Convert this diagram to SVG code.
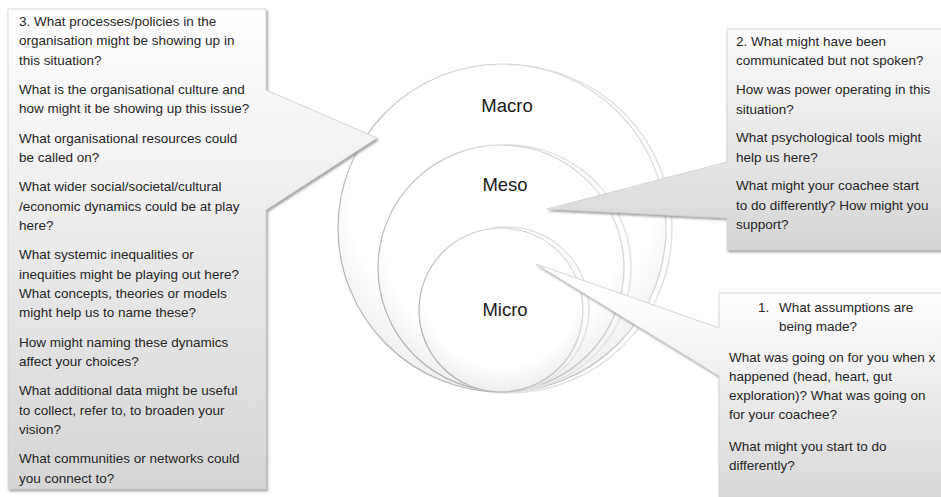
<svg xmlns="http://www.w3.org/2000/svg" width="941" height="497" viewBox="0 0 941 497">
  <style>
    .q { font-family: "Liberation Sans", Arial, sans-serif; font-size: 13.5px; fill: #262626; }
    .lbl { font-family: "Liberation Sans", Arial, sans-serif; font-size: 18.5px; fill: #1a1a1a; text-anchor: middle; }
    .callout { stroke: #cfcfcf; stroke-width: 0.8; filter: url(#shadow); }
    .ring { stroke: url(#ringStroke); stroke-width: 1.2; fill: url(#ringFill); }
    .ghost { fill: none; stroke: #e3e3e3; stroke-width: 1.6; }
  </style>
  <defs>
    <filter id="shadow" x="-5%" y="-5%" width="115%" height="115%">
      <feDropShadow dx="1.5" dy="2" stdDeviation="1.1" flood-color="#6f6f6f" flood-opacity="0.65"/>
    </filter>
    <linearGradient id="gLeft" gradientUnits="userSpaceOnUse" x1="0" y1="9" x2="0" y2="489">
      <stop offset="0" stop-color="#ffffff"/>
      <stop offset="1" stop-color="#d5d5d5"/>
    </linearGradient>
    <linearGradient id="gTop" gradientUnits="userSpaceOnUse" x1="0" y1="29" x2="0" y2="250">
      <stop offset="0" stop-color="#fbfbfb"/>
      <stop offset="1" stop-color="#d5d5d5"/>
    </linearGradient>
    <linearGradient id="gBot" gradientUnits="userSpaceOnUse" x1="0" y1="293" x2="0" y2="520">
      <stop offset="0" stop-color="#ffffff"/>
      <stop offset="1" stop-color="#d3d3d3"/>
    </linearGradient>
    <radialGradient id="ringFill" cx="0.5" cy="0.38" r="0.62">
      <stop offset="0.75" stop-color="#ffffff"/>
      <stop offset="1" stop-color="#eeeeee"/>
    </radialGradient>
    <linearGradient id="ringStroke" x1="0" y1="1" x2="1" y2="0">
      <stop offset="0" stop-color="#a9a9a9"/>
      <stop offset="1" stop-color="#e2e2e2"/>
    </linearGradient>
  </defs>
  <rect width="941" height="497" fill="#ffffff"/>

  <g id="macro">
    <circle class="ghost" cx="508" cy="229" r="164"/>
    <circle class="ring" cx="502" cy="228" r="164"/>
    <text class="lbl" x="507" y="112">Macro</text>
  </g>
  <g id="meso">
    <circle class="ghost" cx="508" cy="268" r="123"/>
    <circle class="ring" cx="501" cy="268" r="123"/>
    <text class="lbl" x="505" y="191">Meso</text>
  </g>
  <g id="micro">
    <circle class="ghost" cx="507" cy="309" r="82"/>
    <circle class="ring" cx="501" cy="310" r="82"/>
    <text class="lbl" x="505" y="316">Micro</text>
  </g>

  <g id="callout-macro">
    <path class="callout" fill="url(#gLeft)" d="M8,9 H266 V90 L377,138 L266,210 V489 H8 Z"/>
    <text class="q">
      <tspan x="19" y="26">3. What processes/policies in the</tspan>
      <tspan x="19" y="45.4">organisation might be showing up in</tspan>
      <tspan x="19" y="64.8">this situation?</tspan>
      <tspan x="19" y="94">What is the organisational culture and</tspan>
      <tspan x="19" y="113.4">how might it be showing up this issue?</tspan>
      <tspan x="19" y="142.6">What organisational resources could</tspan>
      <tspan x="19" y="162">be called on?</tspan>
      <tspan x="19" y="191.2">What wider social/societal/cultural</tspan>
      <tspan x="19" y="210.6">/economic dynamics could be at play</tspan>
      <tspan x="19" y="230">here?</tspan>
      <tspan x="19" y="259.2">What systemic inequalities or</tspan>
      <tspan x="19" y="278.6">inequities might be playing out here?</tspan>
      <tspan x="19" y="298">What concepts, theories or models</tspan>
      <tspan x="19" y="317.4">might help us to name these?</tspan>
      <tspan x="19" y="346.6">How might naming these dynamics</tspan>
      <tspan x="19" y="366">affect your choices?</tspan>
      <tspan x="19" y="395.2">What additional data might be useful</tspan>
      <tspan x="19" y="414.6">to collect, refer to, to broaden your</tspan>
      <tspan x="19" y="434">vision?</tspan>
      <tspan x="19" y="463.2">What communities or networks could</tspan>
      <tspan x="19" y="482.6">you connect to?</tspan>
    </text>
  </g>

  <g id="callout-meso">
    <path class="callout" fill="url(#gTop)" d="M727,29 H944 V250 H727 V218 L547,209 L727,162 Z"/>
    <text class="q">
      <tspan x="736" y="46">2. What might have been</tspan>
      <tspan x="736" y="65.2">communicated but not spoken?</tspan>
      <tspan x="736" y="94.4">How was power operating in this</tspan>
      <tspan x="736" y="113.6">situation?</tspan>
      <tspan x="736" y="142.4">What psychological tools might</tspan>
      <tspan x="736" y="161.6">help us here?</tspan>
      <tspan x="736" y="190.4">What might your coachee start</tspan>
      <tspan x="736" y="209.6">to do differently? How might you</tspan>
      <tspan x="736" y="228.8">support?</tspan>
    </text>
  </g>

  <g id="callout-micro">
    <path class="callout" fill="url(#gBot)" d="M719,293 H946 V520 H719 V376 L536,264 L719,328 Z"/>
    <text class="q">
      <tspan x="758" y="312">1.</tspan>
      <tspan x="779" y="312">What assumptions are</tspan>
      <tspan x="779" y="331">being made?</tspan>
      <tspan x="729" y="362">What was going on for you when x</tspan>
      <tspan x="729" y="381">happened (head, heart, gut</tspan>
      <tspan x="729" y="400">exploration)? What was going on</tspan>
      <tspan x="729" y="419">for your coachee?</tspan>
      <tspan x="729" y="451">What might you start to do</tspan>
      <tspan x="729" y="470">differently?</tspan>
    </text>
  </g>
</svg>
